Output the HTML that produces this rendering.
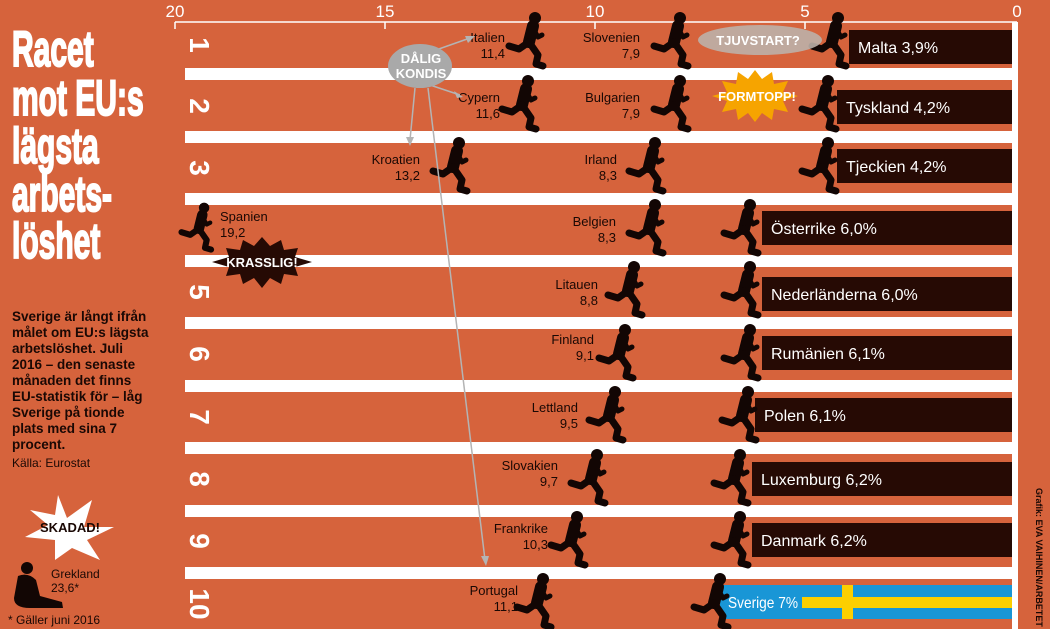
<!DOCTYPE html>
<html><head><meta charset="utf-8"><style>
html,body{margin:0;padding:0;background:#d6633c;}
svg{display:block;}
text{font-family:"Liberation Sans",sans-serif;}
</style></head><body>
<svg width="1050" height="629" viewBox="0 0 1050 629" xmlns="http://www.w3.org/2000/svg">
<defs>
<symbol id="r" viewBox="0 0 46 56" overflow="visible">
<g fill="none" stroke="#120604" stroke-linecap="round" stroke-linejoin="round">
<circle cx="30" cy="6" r="6" fill="#120604" stroke="none"/>
<path d="M28 14 L24 30" stroke-width="12"/>
<path d="M27 15 L33 25 L37 23" stroke-width="5"/>
<path d="M24 30 L14 37 L4 34" stroke-width="7"/>
<path d="M24 30 L33 43 L31 52 L38 54" stroke-width="7"/>
</g>
</symbol>
</defs>
<rect width="1050" height="629" fill="#d6633c"/>
<g fill="#fff">
<rect x="185" y="68" width="830" height="12"/>
<rect x="185" y="131" width="830" height="12"/>
<rect x="185" y="193" width="830" height="12"/>
<rect x="185" y="255" width="830" height="12"/>
<rect x="185" y="317" width="830" height="12"/>
<rect x="185" y="380" width="830" height="12"/>
<rect x="185" y="442" width="830" height="12"/>
<rect x="185" y="505" width="830" height="12"/>
<rect x="185" y="567" width="830" height="12"/>
<rect x="1012" y="22" width="6" height="607"/>
</g>
<g stroke="#fff" stroke-width="1.5">
<line x1="175" y1="22" x2="1017" y2="22"/>
<line x1="175" y1="22" x2="175" y2="29"/><line x1="385" y1="22" x2="385" y2="29"/>
<line x1="595" y1="22" x2="595" y2="29"/><line x1="805" y1="22" x2="805" y2="29"/>
</g>
<g fill="#fff" font-size="17" text-anchor="middle">
<text x="175" y="17">20</text><text x="385" y="17">15</text><text x="595" y="17">10</text><text x="805" y="17">5</text><text x="1017" y="17">0</text>
</g>
<g fill="#fff" font-size="28" font-weight="bold" text-anchor="middle">
<text transform="translate(190,45) rotate(90)">1</text>
<text transform="translate(190,106) rotate(90)">2</text>
<text transform="translate(190,168) rotate(90)">3</text>
<text transform="translate(190,292) rotate(90)">5</text>
<text transform="translate(190,354) rotate(90)">6</text>
<text transform="translate(190,417) rotate(90)">7</text>
<text transform="translate(190,479) rotate(90)">8</text>
<text transform="translate(190,541) rotate(90)">9</text>
<text transform="translate(190,604) rotate(90)">10</text>
</g>
<g fill="#260a04">
<rect x="849" y="30" width="163" height="34"/>
<rect x="837" y="90" width="175" height="34"/>
<rect x="837" y="149" width="175" height="34"/>
<rect x="762" y="211" width="250" height="34"/>
<rect x="762" y="277" width="250" height="34"/>
<rect x="762" y="336" width="250" height="34"/>
<rect x="755" y="398" width="257" height="34"/>
<rect x="752" y="462" width="260" height="34"/>
<rect x="752" y="523" width="260" height="34"/>
</g>
<rect x="720" y="585" width="292" height="34" fill="#1996d6"/>
<rect x="802" y="597" width="210" height="11" fill="#fccf00"/>
<rect x="842" y="585" width="11" height="34" fill="#fccf00"/>
<g fill="#fff" font-size="16">
<text x="858" y="53">Malta 3,9%</text>
<text x="846" y="113">Tyskland 4,2%</text>
<text x="846" y="172">Tjeckien 4,2%</text>
<text x="771" y="234">Österrike 6,0%</text>
<text x="771" y="300">Nederländerna 6,0%</text>
<text x="771" y="359">Rumänien 6,1%</text>
<text x="764" y="421">Polen 6,1%</text>
<text x="761" y="485">Luxemburg 6,2%</text>
<text x="761" y="546">Danmark 6,2%</text>
<text x="728" y="608" textLength="70" lengthAdjust="spacingAndGlyphs">Sverige 7%</text>
</g>
<g>
<use href="#r" x="505" y="12" width="46" height="56"/>
<use href="#r" x="650" y="12" width="46" height="56"/>
<use href="#r" x="808" y="12" width="46" height="56"/>
<use href="#r" x="498" y="75" width="46" height="56"/>
<use href="#r" x="650" y="75" width="46" height="56"/>
<use href="#r" x="798" y="75" width="46" height="56"/>
<use href="#r" x="429" y="137" width="46" height="56"/>
<use href="#r" x="625" y="137" width="46" height="56"/>
<use href="#r" x="798" y="137" width="46" height="56"/>
<use href="#r" x="178" y="199" width="40" height="56"/>
<use href="#r" x="625" y="199" width="46" height="56"/>
<use href="#r" x="720" y="199" width="46" height="56"/>
<use href="#r" x="604" y="261" width="46" height="56"/>
<use href="#r" x="720" y="261" width="46" height="56"/>
<use href="#r" x="595" y="324" width="46" height="56"/>
<use href="#r" x="720" y="324" width="46" height="56"/>
<use href="#r" x="585" y="386" width="46" height="56"/>
<use href="#r" x="718" y="386" width="46" height="56"/>
<use href="#r" x="567" y="449" width="46" height="56"/>
<use href="#r" x="710" y="449" width="46" height="56"/>
<use href="#r" x="547" y="511" width="46" height="56"/>
<use href="#r" x="710" y="511" width="46" height="56"/>
<use href="#r" x="513" y="573" width="46" height="56"/>
<use href="#r" x="690" y="573" width="46" height="56"/>
</g>
<g fill="#1a0804" font-size="13" text-anchor="end">
<text x="505" y="42">Italien</text><text x="505" y="58">11,4</text>
<text x="640" y="42">Slovenien</text><text x="640" y="58">7,9</text>
<text x="500" y="102">Cypern</text><text x="500" y="118">11,6</text>
<text x="640" y="102">Bulgarien</text><text x="640" y="118">7,9</text>
<text x="420" y="164">Kroatien</text><text x="420" y="180">13,2</text>
<text x="617" y="164">Irland</text><text x="617" y="180">8,3</text>
<text x="616" y="226">Belgien</text><text x="616" y="242">8,3</text>
<text x="598" y="289">Litauen</text><text x="598" y="305">8,8</text>
<text x="594" y="344">Finland</text><text x="594" y="360">9,1</text>
<text x="578" y="412">Lettland</text><text x="578" y="428">9,5</text>
<text x="558" y="470">Slovakien</text><text x="558" y="486">9,7</text>
<text x="548" y="533">Frankrike</text><text x="548" y="549">10,3</text>
<text x="518" y="595">Portugal</text><text x="518" y="611">11,1</text>
</g>
<g fill="#1a0804" font-size="13"><text x="220" y="221">Spanien</text><text x="220" y="237">19,2</text></g>
<g stroke="#b4b4b4" stroke-width="1.5" fill="none">
<line x1="436" y1="50" x2="470" y2="38"/>
<line x1="430" y1="85" x2="460" y2="95"/>
<line x1="415" y1="88" x2="410" y2="140"/>
<line x1="428" y1="88" x2="485" y2="560"/>
</g>
<g fill="#b4b4b4">
<polygon points="475,36 465,36 468,43"/>
<polygon points="463,97 454,91 457,98"/>
<polygon points="410,146 406,137 414,137"/>
<polygon points="486,566 481,556 489,556"/>
</g>
<ellipse cx="420" cy="66" rx="32" ry="22" fill="#a9a9a9"/>
<g fill="#fff" font-size="13" font-weight="bold" text-anchor="middle"><text x="421" y="63">DÅLIG</text><text x="421" y="78">KONDIS</text></g>
<ellipse cx="760" cy="40" rx="62" ry="15" fill="#bdb0a8" opacity="0.9"/>
<text x="758" y="45" fill="#fff" font-size="13" font-weight="bold" text-anchor="middle">TJUVSTART?</text>
<polygon fill="#f6a400" points="755,70 762,79 772,72 774,84 788,81 783,92 798,96 783,101 788,112 774,109 772,120 762,113 755,122 748,113 738,120 736,109 722,112 727,101 712,96 727,92 722,81 736,84 738,72 748,79"/>
<text x="757" y="101" fill="#fff" font-size="13" font-weight="bold" text-anchor="middle">FORMTOPP!</text>
<polygon fill="#260a04" points="262,237 270,246 281,240 284,250 298,248 295,257 312,262 295,267 298,276 284,274 281,284 270,278 262,288 254,278 243,284 240,274 226,276 229,267 212,262 229,257 226,248 240,250 243,240 254,246"/>
<text x="262" y="267" fill="#fff" font-size="13" font-weight="bold" text-anchor="middle">KRASSLIG!</text>
<polygon fill="#fff" points="58,495 67,518 92,500 84,527 114,527 87,540 100,560 72,548 55,560 55,540 25,537 48,525 30,510 55,515"/>
<text x="70" y="532" fill="#1a0804" font-size="13" font-weight="bold" text-anchor="middle">SKADAD!</text>
<g fill="#120604">
<circle cx="27" cy="568" r="6"/>
<path d="M18 576 Q28 572 36 580 L40 596 L62 602 L63 608 L30 608 Q14 608 14 598 Z"/>
</g>
<g fill="#1a0804" font-size="12"><text x="51" y="578">Grekland</text><text x="51" y="592">23,6*</text></g>
<text x="8" y="624" fill="#1a0804" font-size="12">* Gäller juni 2016</text>
<g fill="#fff" stroke="#fff" stroke-width="2" font-size="50" font-weight="bold" transform="translate(12,0) scale(0.6,1)">
<text x="0" y="66">Racet</text>
<text x="0" y="115">mot EU:s</text>
<text x="0" y="163">lägsta</text>
<text x="0" y="211">arbets-</text>
<text x="0" y="258">löshet</text>
</g>
<g fill="#1a0804" font-size="13.5" font-weight="bold" transform="translate(12,0)">
<text x="0" y="321">Sverige är långt ifrån</text>
<text x="0" y="337">målet om EU:s lägsta</text>
<text x="0" y="353">arbetslöshet. Juli</text>
<text x="0" y="369">2016 – den senaste</text>
<text x="0" y="385">månaden det finns</text>
<text x="0" y="401">EU-statistik för – låg</text>
<text x="0" y="417">Sverige på tionde</text>
<text x="0" y="433">plats med sina 7</text>
<text x="0" y="449">procent.</text>
</g>
<text x="12" y="467" fill="#1a0804" font-size="12">Källa: Eurostat</text>
<text transform="translate(1036,488) rotate(90)" fill="#1a0804" font-size="9" font-weight="bold">Grafik: EVA VAIHINEN/ARBETET</text>
</svg>
</body></html>
